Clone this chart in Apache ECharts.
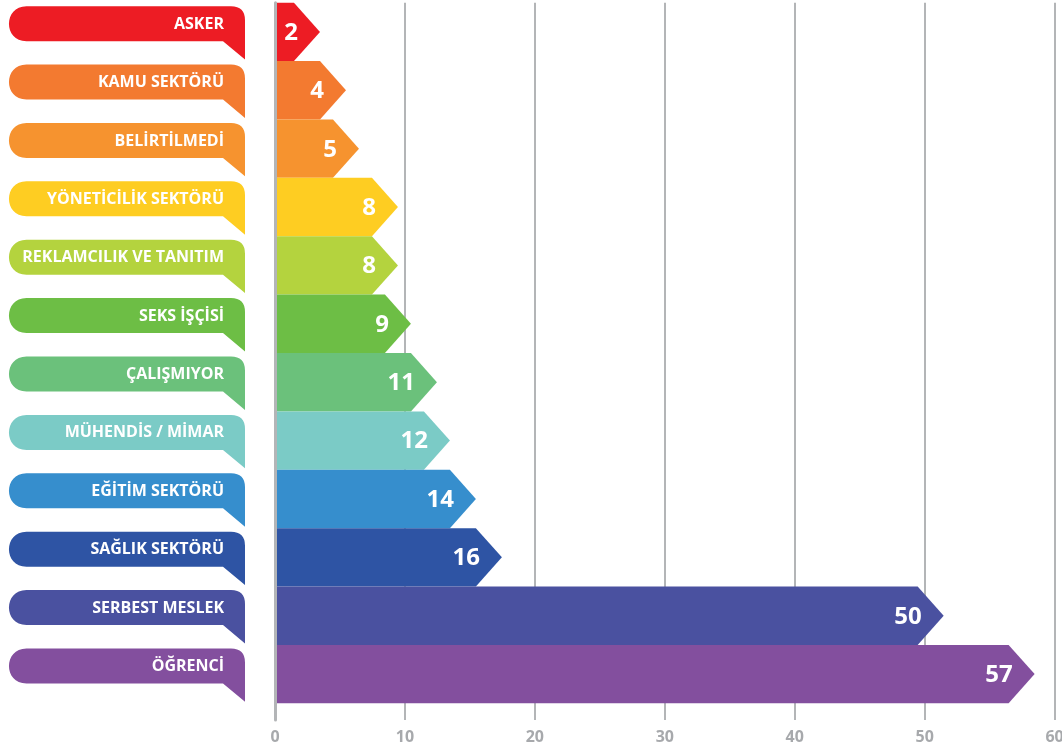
<!DOCTYPE html>
<html>
<head>
<meta charset="utf-8">
<script src="https://cdn.jsdelivr.net/npm/echarts@6/dist/echarts.min.js"></script>
<style>
html,body{margin:0;padding:0;background:#fff;}
#chart{width:1062px;height:751px;}
</style>
</head>
<body>
<div id="chart"></div>
<script>
const categories = ['ASKER','KAMU SEKTÖRÜ','BELİRTİLMEDİ','YÖNETİCİLİK SEKTÖRÜ','REKLAMCILIK VE TANITIM','SEKS İŞÇİSİ','ÇALIŞMIYOR','MÜHENDİS / MİMAR','EĞİTİM SEKTÖRÜ','SAĞLIK SEKTÖRÜ','SERBEST MESLEK','ÖĞRENCİ'];
const values = [2, 4, 5, 8, 8, 9, 11, 12, 14, 16, 50, 57];
const colors = ['#ED1C24','#F37A30','#F6932F','#FECD22','#B4D33E','#6DBE45','#6BC17B','#7BCBC6','#368ECD','#2E54A4','#4A51A0','#834F9E'];
const xTicks = [0, 10, 20, 30, 40, 50, 60];

const FONT = '"Open Sans", "DejaVu Sans", sans-serif';
const chart = echarts.init(document.getElementById('chart'));

function renderItem(params, api) {
  const idx = api.value(1);
  const v = api.value(0);
  const start = api.coord([0, idx]);
  const end = api.coord([v, idx]);
  const bandH = api.size([0, 1])[1];
  const cy = start[1];
  const y0 = cy - bandH / 2;
  const y1 = cy + bandH / 2;
  const x0 = start[0] + 1.5;
  const tip = end[0] + 19;
  const rectEnd = tip - 26;
  const color = colors[idx];

  // tag on the left
  const L = start[0] - 266, R = start[0] - 30;
  const T = y0 + 3.5, B = T + 35, F = y1 - 1.5;
  const r = 17.5, rr = 14;
  const k = r * 4 / 3;
  const path = 'M' + (L + r) + ' ' + T +
    ' L' + (R - rr) + ' ' + T +
    ' Q' + R + ' ' + T + ' ' + R + ' ' + (T + rr) +
    ' L' + R + ' ' + F +
    ' L' + (R - 22) + ' ' + B +
    ' L' + (L + r) + ' ' + B +
    ' C' + (L + r - k) + ' ' + B + ' ' + (L + r - k) + ' ' + T + ' ' + (L + r) + ' ' + T + ' Z';

  return {
    type: 'group',
    children: [
      {
        type: 'polygon',
        shape: { points: [[x0, y0], [rectEnd, y0], [tip, cy], [rectEnd, y1], [x0, y1]] },
        style: { fill: color }
      },
      {
        type: 'text',
        style: {
          x: tip - 22, y: cy + 1,
          text: String(v),
          fill: '#fff',
          font: 'bold 24px ' + FONT,
          align: 'right', verticalAlign: 'middle'
        }
      },
      {
        type: 'path',
        shape: { pathData: path },
        style: { fill: color }
      },
      {
        type: 'text',
        style: {
          x: R - 21, y: T + 18,
          text: categories[idx],
          fill: '#fff',
          font: 'bold 16px ' + FONT,
          align: 'right', verticalAlign: 'middle'
        }
      }
    ]
  };
}

chart.setOption({
  animation: false,
  backgroundColor: '#fff',
  grid: [
    { left: 275, right: 7.4, top: 2.7, height: 700.6, outerBoundsMode: 'none', containLabel: false },
    { left: 275, right: 7.4, top: 2.7, bottom: 31, outerBoundsMode: 'none', containLabel: false }
  ],
  xAxis: [
    { gridIndex: 0, type: 'value', min: 0, max: 60, show: false },
    {
      gridIndex: 1, type: 'value', min: xTicks[0], max: xTicks[xTicks.length - 1], interval: 10,
      axisLine: { show: false }, axisTick: { show: false },
      splitLine: { show: true, lineStyle: { color: '#b3b5b7', width: 2 } },
      axisLabel: { color: '#a7a9ac', fontSize: 16, fontWeight: 'bold', fontFamily: FONT, margin: 9 }
    }
  ],
  yAxis: [
    { gridIndex: 0, type: 'category', data: categories, inverse: true, show: false },
    {
      gridIndex: 1, type: 'value', min: 0, max: 1, z: 5,
      axisLine: { show: true, lineStyle: { color: '#b3b5b7', width: 3 } },
      axisTick: { show: false }, axisLabel: { show: false }, splitLine: { show: false }
    }
  ],
  series: [
    {
      type: 'custom',
      xAxisIndex: 0, yAxisIndex: 0,
      renderItem: renderItem,
      encode: { x: 0, y: 1 },
      data: values.map((v, i) => [v, i]),
      clip: false,
      z: 3
    }
  ]
});
</script>
</body>
</html>
